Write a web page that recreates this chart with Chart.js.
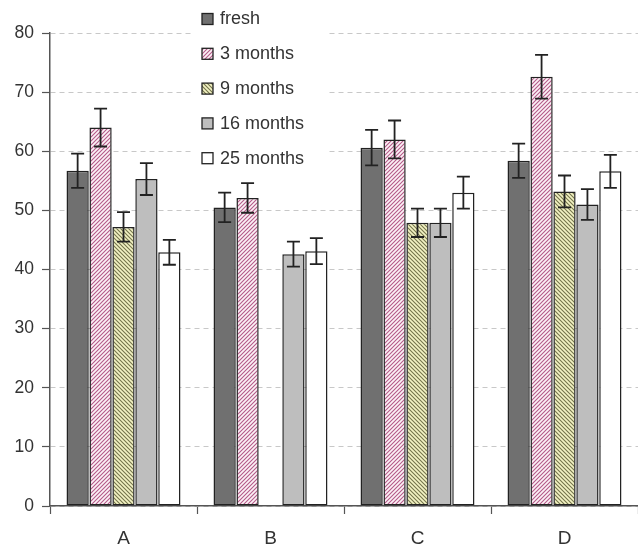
<!DOCTYPE html>
<html>
<head>
<meta charset="utf-8">
<script src="https://cdn.jsdelivr.net/npm/chart.js@4/dist/chart.umd.min.js"></script>
<style>
  html, body { margin: 0; padding: 0; background: #fff; }
  #wrap { width: 638px; height: 545px; }
</style>
</head>
<body>
<div id="wrap"><canvas id="c" width="638" height="545"></canvas></div>
<script>
// Groups on the x axis and the ages compared within each group
const categories = ['A', 'B', 'C', 'D'];
const seriesLabels = ['fresh', '3 months', '9 months', '16 months', '25 months'];

// Mean values per group (null = not measured)
const fresh    = [56.7, 50.5, 60.6, 58.4];
const months3  = [64.0, 52.1, 62.0, 72.6];
const months9  = [47.2, null, 47.9, 53.2];
const months16 = [55.3, 42.6, 47.9, 51.0];
const months25 = [42.9, 43.1, 53.0, 56.6];

// Error bar half-lengths
const freshErr    = [2.9, 2.5, 3.0, 2.9];
const months3Err  = [3.2, 2.5, 3.2, 3.7];
const months9Err  = [2.5, null, 2.4, 2.7];
const months16Err = [2.7, 2.1, 2.4, 2.6];
const months25Err = [2.1, 2.2, 2.7, 2.8];

const yTicks = [0, 10, 20, 30, 40, 50, 60, 70, 80];

// Diagonal hatch fill
function hatch(bg, fg, dir) {
  const s = 4;
  const c = document.createElement('canvas');
  c.width = s; c.height = s;
  const g = c.getContext('2d');
  g.fillStyle = bg;
  g.fillRect(0, 0, s, s);
  g.strokeStyle = fg;
  g.lineWidth = 1.1;
  g.beginPath();
  if (dir === '/') {
    g.moveTo(0, s); g.lineTo(s, 0);
    g.moveTo(-1, 1); g.lineTo(1, -1);
    g.moveTo(s - 1, s + 1); g.lineTo(s + 1, s - 1);
  } else {
    g.moveTo(0, 0); g.lineTo(s, s);
    g.moveTo(-1, s - 1); g.lineTo(1, s + 1);
    g.moveTo(s - 1, -1); g.lineTo(s + 1, 1);
  }
  g.stroke();
  return g.createPattern(c, 'repeat');
}

const fills = [
  '#707070',
  hatch('#fcf2f7', '#b45a88', '/'),
  hatch('#f3f3c4', '#74744c', '\\'),
  '#bebebe',
  '#ffffff'
];

const values = [fresh, months3, months9, months16, months25];
const errors = [freshErr, months3Err, months9Err, months16Err, months25Err];

const datasets = seriesLabels.map((lab, i) => ({
  label: lab,
  data: values[i],
  errors: errors[i],
  backgroundColor: fills[i],
  borderColor: '#222222',
  borderWidth: 1.5,
  borderSkipped: false,
  categoryPercentage: 0.78,
  barPercentage: 0.97
}));

const FONT = 'Liberation Sans, Arial, sans-serif';
const TEXT = '#333333';

// Whiskers with caps on each bar
const errorBars = {
  id: 'errorBars',
  afterDatasetsDraw(chart) {
    const ctx = chart.ctx;
    const y = chart.scales.y;
    ctx.save();
    ctx.strokeStyle = '#222222';
    ctx.lineWidth = 1.8;
    chart.data.datasets.forEach((ds, di) => {
      const meta = chart.getDatasetMeta(di);
      meta.data.forEach((bar, i) => {
        const v = ds.data[i], e = ds.errors[i];
        if (v == null || e == null) return;
        const x = bar.x;
        const yt = y.getPixelForValue(v + e);
        const yb = y.getPixelForValue(v - e);
        const cap = 6.5;
        ctx.beginPath();
        ctx.moveTo(x, yt); ctx.lineTo(x, yb);
        ctx.moveTo(x - cap, yt); ctx.lineTo(x + cap, yt);
        ctx.moveTo(x - cap, yb); ctx.lineTo(x + cap, yb);
        ctx.stroke();
      });
    });
    ctx.restore();
  }
};

// Legend in a white box inside the plot area
const boxLegend = {
  id: 'boxLegend',
  afterDraw(chart) {
    const ctx = chart.ctx;
    ctx.save();
    ctx.fillStyle = '#ffffff';
    ctx.fillRect(193, 0, 136, 176);
    ctx.font = '18px ' + FONT;
    ctx.textBaseline = 'middle';
    chart.data.datasets.forEach((ds, i) => {
      const cy = 19 + i * 34.8;
      ctx.fillStyle = ds.backgroundColor;
      ctx.fillRect(202, cy - 5.5, 11, 11);
      ctx.strokeStyle = '#222222';
      ctx.lineWidth = 1.3;
      ctx.strokeRect(202, cy - 5.5, 11, 11);
      ctx.fillStyle = TEXT;
      ctx.fillText(ds.label, 220, cy + 0.5);
    });
    ctx.restore();
  }
};

new Chart(document.getElementById('c'), {
  type: 'bar',
  data: { labels: categories, datasets },
  plugins: [errorBars, boxLegend],
  options: {
    responsive: false,
    animation: false,
    devicePixelRatio: 1,
    layout: { padding: { top: 33, right: 0, left: 0, bottom: 0 } },
    plugins: { legend: { display: false }, tooltip: { enabled: false } },
    scales: {
      x: {
        offset: true,
        afterFit(scale) { scale.height = 39; },
        grid: {
          display: true,
          offset: true,
          drawOnChartArea: false,
          drawTicks: true,
          tickLength: 8,
          tickColor: '#555555',
          tickWidth: 1.2
        },
        border: { display: true, color: '#555555', width: 1.5 },
        ticks: { color: TEXT, font: { family: FONT, size: 19 }, padding: 13 }
      },
      y: {
        min: 0,
        max: 80,
        afterBuildTicks(scale) { scale.ticks = yTicks.map(v => ({ value: v })); },
        afterFit(scale) { scale.width = 50; },
        grid: {
          color: '#c8c8c8',
          lineWidth: 1,
          drawTicks: true,
          tickLength: 8,
          tickColor: '#555555',
          tickWidth: 1.2
        },
        border: { display: true, color: '#555555', width: 1.5, dash: [5, 4] },
        ticks: { color: TEXT, font: { family: FONT, size: 17.5 }, padding: 8 }
      }
    }
  }
});
</script>
</body>
</html>
